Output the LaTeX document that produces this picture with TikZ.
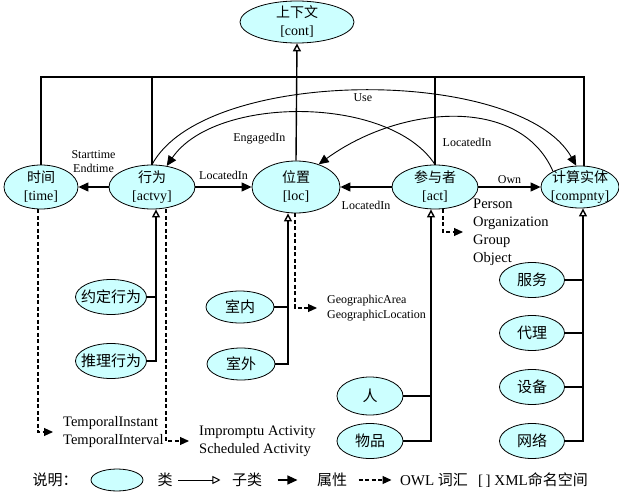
\documentclass[tikz,border=0pt]{standalone}
\usepackage{fontspec}
\setmainfont{Liberation Serif}
\newfontfamily\cjk{Noto Sans CJK SC}
\usetikzlibrary{shapes.geometric,arrows.meta}
\definecolor{clsfill}{HTML}{CCFFFF}
\tikzset{
  cls/.style={ellipse, draw, line width=0.8pt, fill=clsfill, inner sep=-4pt, align=center, font=\fontsize{14}{18}\selectfont},
  subcls/.style={cls, inner sep=-6pt, minimum width=68pt, minimum height=35pt, font=\cjk\fontsize{15}{18}\selectfont},
  bar/.style={line width=1.5pt},
  prop/.style={line width=1.2pt, -{Triangle[length=10pt,width=9pt]}},
  rel/.style={line width=0.9pt, -{Triangle[length=10pt,width=9pt]}},
  isa/.style={line width=1.4pt, -{Triangle[open,length=8pt,width=8pt]}},
  owl/.style={line width=1.1pt, dash pattern=on 4pt off 2.5pt, -{Triangle[length=9pt,width=8pt]}, shorten >=10pt},
  vocab/.style={inner sep=0pt, anchor=west, align=left, font=\fontsize{14.5}{18}\selectfont},
  lbl/.style={inner sep=2pt, font=\fontsize{12}{14}\selectfont},
  leg/.style={font=\fontsize{15}{18}\selectfont}
}
\begin{document}
\begin{tikzpicture}[x=1pt, y=-1pt]
\useasboundingbox (0,0) rectangle (619,495);
% classes
\node[cls, minimum width=114pt, minimum height=42pt] (cont) at (297,22) {{\cjk 上下文}\\{[cont]}};
\node[cls, minimum width=74pt, minimum height=44pt] (time) at (41,187) {{\cjk 时间}\\{[time]}};
\node[cls, minimum width=86pt, minimum height=44pt] (actvy) at (152,187) {{\cjk 行为}\\{[actvy]}};
\node[cls, minimum width=88pt, minimum height=52pt] (loc) at (296,187) {{\cjk 位置}\\{[loc]}};
\node[cls, minimum width=86pt, minimum height=44pt] (act) at (435,187) {{\cjk 参与者}\\{[act]}};
\node[cls, minimum width=78pt, minimum height=42pt] (compnty) at (580,187) {{\cjk 计算实体}\\{[compnty]}};
% subclasses
\node[subcls, minimum width=71pt] (yd) at (111,297) {约定行为};
\node[subcls, minimum width=71pt] (tl) at (111,361) {推理行为};
\node[subcls, minimum height=32pt] (sn) at (240,307) {室内};
\node[subcls, minimum height=32pt] (sw) at (241,364) {室外};
\node[subcls, minimum width=66pt, minimum height=38pt] (ren) at (370,396) {人};
\node[subcls, minimum width=66pt] (wp) at (370,441) {物品};
\foreach \n/\y/\t in {fw/280/服务, dl/333/代理, sb/387/设备, wl/441/网络}
  \node[subcls, minimum width=65pt] (\n) at (532,\y) {\t};
% vocabularies
\node[vocab] (tmp) at (63,432) {TemporalInstant\\TemporalInterval};
\node[vocab] (imp) at (199,441) {Impromptu Activity\\Scheduled Activity};
\node[vocab, font=\fontsize{12}{15}\selectfont] (geo) at (327,308) {GeographicArea\\GeographicLocation};
\node[vocab] (per) at (473,232) {Person\\Organization\\Group\\Object};

% top-level links to context
\coordinate (bus) at (0,77);
\draw[bar] (time.north) |- (bus -| compnty.80) -- (compnty.80);
\draw[bar] (actvy.north) -- (actvy.north |- bus);
\draw[bar] (act.north) -- (act.north |- bus);
\draw[isa] (loc.north) -- (cont.south);

% properties
\draw[rel] (actvy.north) .. controls (205,66) and (520,66) .. node[lbl, pos=0.5, below]{Use} (compnty.100);
\draw[rel] (act.north) .. controls (390,95) and (215,95) .. node[lbl, pos=0.63, below=14pt]{EngagedIn} (actvy.55);
\draw[rel] (compnty.150) .. controls (520,95) and (400,105) .. node[lbl, pos=0.45, below=18pt]{LocatedIn} (loc.45);
\draw[prop] (actvy) -- node[lbl, above=12pt, align=center]{Starttime\\Endtime} (time);
\draw[prop] (actvy) -- node[lbl, above=5pt]{LocatedIn} (loc);
\draw[prop] (act) -- node[lbl, below=12pt]{LocatedIn} (loc);
\draw[prop] (act) -- node[lbl, above=1pt]{Own} (compnty);

% subclass trees
\coordinate (av) at ([xshift=4pt]actvy.south);
\draw[isa] (tl.east) -| (av);
\draw[bar] (yd.east) -- (yd -| av);
\coordinate (lv) at ([xshift=-8pt]loc.south);
\draw[isa] (sw.east) -| (lv);
\draw[bar] (sn.east) -- (sn -| lv);
\coordinate (pv) at ([xshift=-4pt]act.south);
\draw[isa] (wp.east) -| (pv);
\draw[bar] (ren.east) -- (ren -| pv);
\coordinate (cv) at ([xshift=3pt]compnty.south);
\draw[isa] (wl.east) -| (cv);
\foreach \n in {fw,dl,sb}
  \draw[bar] (\n.east) -- (\n -| cv);

% OWL vocabulary
\draw[owl] ([xshift=-3pt]time.south) |- (tmp.west);
\draw[owl] ([xshift=14pt]actvy.south) |- (imp.west);
\draw[owl] ([xshift=-1pt]loc.south) |- (geo.west);
\draw[owl] ([xshift=8pt]act.south) |- (per.west);

% legend
\node[leg, font=\cjk\fontsize{15}{18}\selectfont] (lg) at (55,480) {说明：};
\node[cls, minimum width=52pt, minimum height=22pt] (lgc) at (117,480) {};
\node[leg] (lgcls) at (165,480) {{\cjk 类}};
\node[leg] (lgsub) at (247,480) {{\cjk 子类}};
\node[leg] (lgprop) at (332,480) {{\cjk 属性}};
\node[leg] (lgowl) at (434,480) {OWL {\cjk 词汇}};
\node[leg] (lgxml) at (533,480) {[\,] XML{\cjk 命名空间}};
\draw[isa, line width=1pt, shorten <=2pt, shorten >=8pt] (lgcls) -- (lgsub);
\draw[prop, shorten <=12pt, shorten >=16pt] (lgsub) -- (lgprop);
\draw[owl, shorten <=8pt, shorten >=5pt] (lgprop) -- (lgowl);
\end{tikzpicture}
\end{document}
